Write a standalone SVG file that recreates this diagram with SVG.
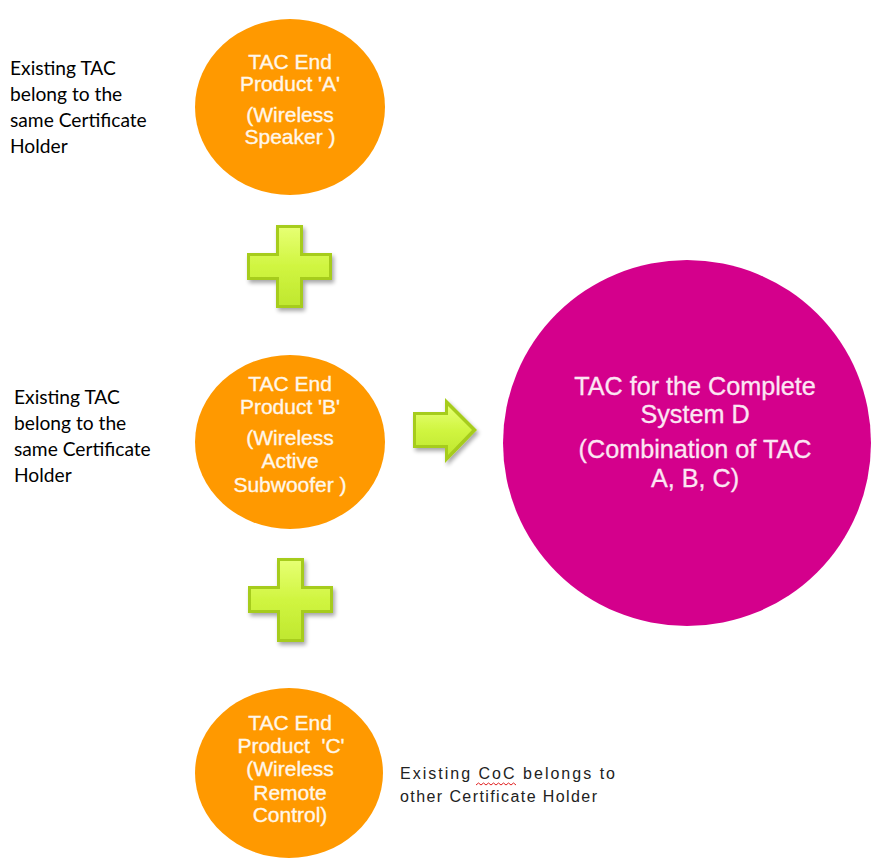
<svg xmlns="http://www.w3.org/2000/svg" width="874" height="862" viewBox="0 0 874 862">
<style>
.orange{fill:#FF9900}
.magenta{fill:#D4008C}
.ot{font-family:"Liberation Sans",Arial,sans-serif;font-size:21px;fill:#FFF7EA;stroke:#FFF7EA;stroke-width:0.35;text-anchor:middle}
.mt{font-family:"Liberation Sans",Arial,sans-serif;font-size:25.2px;fill:#FCE6F3;stroke:#FCE6F3;stroke-width:0.3;text-anchor:middle}
.lbl{font-family:Lato,"Open Sans",sans-serif;font-size:19.2px;fill:#000}
.note{font-family:"Liberation Sans",Arial,sans-serif;font-size:16px;fill:#222}
.shape-edge{fill:#A6CC1A}
.shape-face{fill:url(#lime)}
</style>
<defs>
<linearGradient id="lime" x1="0" y1="0" x2="0" y2="1">
<stop offset="0" stop-color="#E6FF72"/>
<stop offset="0.5" stop-color="#D0F540"/>
<stop offset="1" stop-color="#C0E830"/>
</linearGradient>
<filter id="sh" x="-20%" y="-20%" width="150%" height="150%">
<feGaussianBlur in="SourceAlpha" stdDeviation="2"/>
<feOffset dx="2" dy="3" result="b"/>
<feComponentTransfer><feFuncA type="linear" slope="0.35"/></feComponentTransfer>
<feMerge><feMergeNode/><feMergeNode in="SourceGraphic"/></feMerge>
</filter>
</defs>
<rect width="874" height="862" fill="#fff"/>

<g id="label-a">
<text class="lbl" x="10" y="75">Existing TAC</text>
<text class="lbl" x="10" y="101">belong to the</text>
<text class="lbl" x="10" y="127">same Certificate</text>
<text class="lbl" x="10" y="153">Holder</text>
</g>
<g id="label-b">
<text class="lbl" x="14" y="404">Existing TAC</text>
<text class="lbl" x="14" y="430">belong to the</text>
<text class="lbl" x="14" y="456">same Certificate</text>
<text class="lbl" x="14" y="482">Holder</text>
</g>
<g id="label-c">
<text class="note" x="400" y="779" textLength="215" lengthAdjust="spacing">Existing CoC belongs to</text>
<text class="note" x="400" y="802" textLength="197" lengthAdjust="spacing">other Certificate Holder</text>
<path d="M476,785 l2.5,-2 l2.5,2 l2.5,-2 l2.5,2 l2.5,-2 l2.5,2 l2.5,-2 l2.5,2 l2.5,-2 l2.5,2 l2.5,-2 l2.5,2 l2.5,-2 l2.5,2 l2.5,-2 l2.5,2" fill="none" stroke="#E02020" stroke-width="1"/>
</g>

<g id="node-a">
<ellipse class="orange" cx="290" cy="107" rx="95" ry="88"/>
<text class="ot" x="290" y="69">TAC End</text>
<text class="ot" x="290" y="91">Product 'A'</text>
<text class="ot" x="290" y="122">(Wireless</text>
<text class="ot" x="290" y="144">Speaker )</text>
</g>

<g id="node-b">
<ellipse class="orange" cx="290" cy="442" rx="95" ry="87"/>
<text class="ot" x="290" y="391">TAC End</text>
<text class="ot" x="290" y="414">Product 'B'</text>
<text class="ot" x="290" y="445">(Wireless</text>
<text class="ot" x="290" y="468">Active</text>
<text class="ot" x="290" y="492">Subwoofer )</text>
</g>

<g id="node-c">
<ellipse class="orange" cx="289" cy="773" rx="94" ry="85"/>
<text class="ot" x="290" y="730">TAC End</text>
<text class="ot" x="291" y="753">Product&#160; 'C'</text>
<text class="ot" x="290" y="776">(Wireless</text>
<text class="ot" x="290" y="800">Remote</text>
<text class="ot" x="290" y="822">Control)</text>
</g>

<g id="node-d">
<ellipse class="magenta" cx="687" cy="443" rx="184" ry="183"/>
<text class="mt" x="695" y="395">TAC for the Complete</text>
<text class="mt" x="695" y="423">System D</text>
<text class="mt" x="695" y="458">(Combination of TAC</text>
<text class="mt" x="695" y="487">A, B, C)</text>
</g>

<g id="connectors">
<g id="plus-1" filter="url(#sh)">
<path class="shape-edge" d="M276,225 H303 V253 H332 V280 H303 V308 H276 V280 H247 V253 H276 Z"/>
<path class="shape-face" d="M279,228 H300 V256 H329 V277 H300 V305 H279 V277 H250 V256 H279 Z"/>
</g>
<g id="plus-2" filter="url(#sh)">
<path class="shape-edge" d="M277,558 H304 V586 H333 V613 H304 V642 H277 V613 H248 V586 H277 Z"/>
<path class="shape-face" d="M280,561 H301 V589 H330 V610 H301 V639 H280 V610 H251 V589 H280 Z"/>
</g>
<g id="arrow" filter="url(#sh)">
<path class="shape-edge" d="M413,412 H445 V398 L477,430 L445,463 V448 H413 Z"/>
<path class="shape-face" d="M416,415 H448 V406 L472,430 L448,455 V445 H416 Z"/>
</g>
</g>
</svg>
